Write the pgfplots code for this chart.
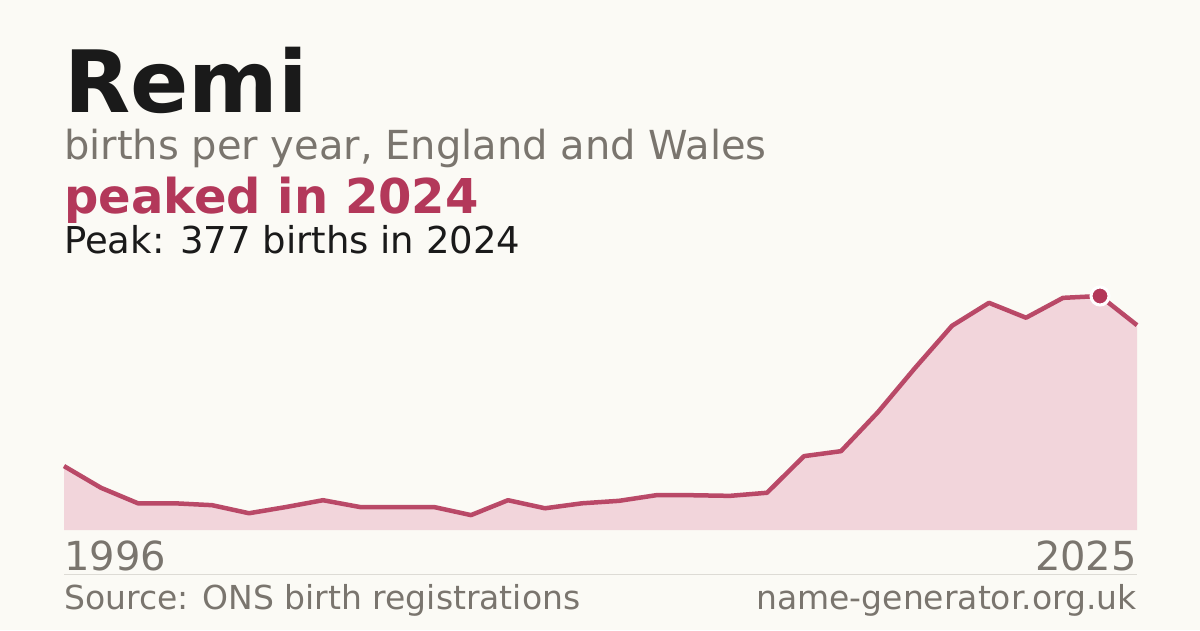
\documentclass[border=0pt]{standalone}
\usepackage{pgfplots}
\pgfplotsset{compat=1.18}
\usepackage{fontspec}
\setmainfont{DejaVu Sans}
\definecolor{bg}{HTML}{FBFAF5}
\definecolor{ink}{HTML}{1A1A1A}
\definecolor{muted}{HTML}{7A756E}
\definecolor{accent}{HTML}{B3385A}
\definecolor{areafill}{HTML}{F2D5DB}
\definecolor{rule}{HTML}{DDDBD5}

\pgfplotstableread{
year births
1996 103
1997 68
1998 43
1999 43
2000 40
2001 27
2002 37
2003 48
2004 37
2005 37
2006 37
2007 24
2008 48
2009 35
2010 43
2011 47
2012 56
2013 56
2014 55
2015 60
2016 119
2017 127
2018 190
2019 261
2020 329
2021 366
2022 342
2023 374
2024 377
2025 330
}\births

\begin{document}
\begin{tikzpicture}
  % canvas in pixel units (pt), origin bottom left
  \fill[bg] (0pt,0pt) rectangle (1200pt,630pt);

  \node[anchor=base west, inner sep=0pt, text=ink]
    at (64pt,517pt) {\fontsize{86}{86}\selectfont\bfseries Remi};
  \node[anchor=base west, inner sep=0pt, text=muted]
    at (64pt,470pt) {\fontsize{40}{40}\selectfont births per year, England and Wales};
  \node[anchor=base west, inner sep=0pt, text=accent]
    at (64pt,416pt) {\fontsize{48}{48}\selectfont\bfseries peaked in 2024};
  \node[anchor=base west, inner sep=0pt, text=ink]
    at (64pt,376pt) {\fontsize{37}{37}\selectfont Peak: 377 births in 2024};

  \begin{axis}[
    at={(64pt,100pt)}, anchor=south west,
    scale only axis, width=1073pt, height=234pt,
    xmin=1996, xmax=2025, ymin=0, ymax=377,
    axis lines=none, ticks=none, clip=false,
  ]
    \addplot[draw=none, fill=areafill] table[x=year, y=births] {\births} \closedcycle;
    \addplot[accent, opacity=0.9, line width=4.5pt, line join=round] table[x=year, y=births] {\births};
    \addplot[only marks, mark=*, mark size=9pt,
      mark options={fill=accent, draw=white, line width=3pt}]
      coordinates {(2024,377)};
  \end{axis}

  \node[anchor=base west, inner sep=0pt, text=muted]
    at (64pt,60pt) {\fontsize{40}{40}\selectfont 1996};
  \node[anchor=base east, inner sep=0pt, text=muted]
    at (1137pt,60pt) {\fontsize{40}{40}\selectfont 2025};
  \draw[rule, line width=1pt] (64pt,55.5pt) -- (1137pt,55.5pt);
  \node[anchor=base west, inner sep=0pt, text=muted]
    at (64pt,21pt) {\fontsize{33}{33}\selectfont Source: ONS birth registrations};
  \node[anchor=base east, inner sep=0pt, text=muted]
    at (1137pt,21pt) {\fontsize{33}{33}\selectfont name-generator.org.uk};
\end{tikzpicture}
\end{document}
